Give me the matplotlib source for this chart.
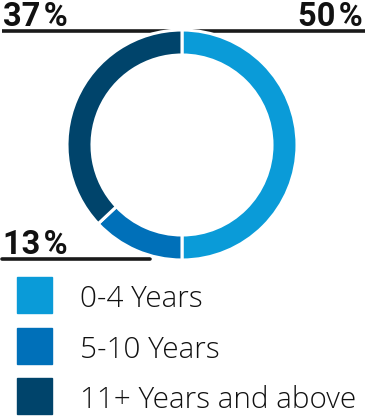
import matplotlib
matplotlib.use("Agg")
import matplotlib.pyplot as plt

# data
categories = ["0-4 Years", "5-10 Years", "11+ Years and above"]
shares = [50, 13, 37]
colors = ["#0a9bd8", "#0070b9", "#00446b"]

W, H = 367, 416
fig = plt.figure(figsize=(W / 100, H / 100), dpi=100)

# background axes in pixel coords (y down)
bg = fig.add_axes([0, 0, 1, 1])
bg.set_xlim(0, W)
bg.set_ylim(H, 0)
bg.axis("off")

font = "Open Sans"

# leader lines
bg.plot([2, 365], [31, 31], color="#1a1a1a", lw=2.6, solid_capstyle="butt", zorder=1)
bg.plot([2, 150], [259, 259], color="#1a1a1a", lw=2.6, solid_capstyle="round", zorder=1)

# percentage labels
pct = dict(fontsize=23.5, fontweight="bold", family="Roboto", va="baseline", color="#111111")
bg.text(3, 26.5, f"{shares[2]}\u200a%", ha="left", **pct)
bg.text(363, 26.5, f"{shares[0]}\u200a%", ha="right", **pct)
bg.text(3, 254, f"{shares[1]}\u200a%", ha="left", **pct)

# donut
cx, cy, r = 182, 145, 115
pax = fig.add_axes([(cx - r) / W, (H - cy - r) / H, 2 * r / W, 2 * r / H])
pax.pie(shares, colors=colors, startangle=90, counterclock=False, radius=1,
        wedgeprops=dict(width=25 / r, edgecolor="white", linewidth=2.2))
pax.set_xlim(-1, 1)
pax.set_ylim(-1, 1)
pax.axis("off")

# legend
for i, (lab, c) in enumerate(zip(categories, colors)):
    y0 = 277 + i * 50.5
    bg.add_patch(plt.Rectangle((17, y0), 35, 36, color=c, zorder=2))
    bg.text(80, y0 + 30, lab, fontsize=21.3, family=font, fontweight="light",
            ha="left", va="baseline", color="#111111")

fig.savefig("out.png", dpi=100)
